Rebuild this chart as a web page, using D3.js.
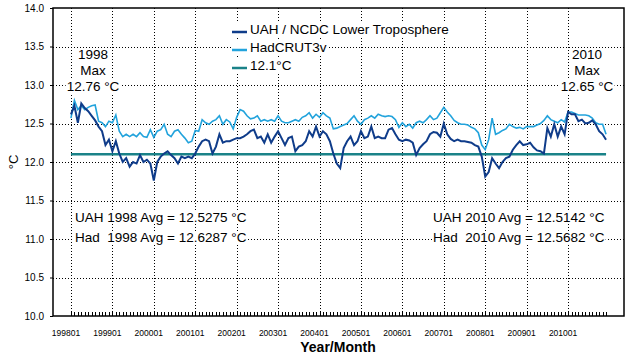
<!DOCTYPE html>
<html>
<head>
<meta charset="utf-8">
<script src="https://cdn.jsdelivr.net/npm/d3@7"></script>
<style>
  html, body { margin: 0; padding: 0; background: #fff; }
  svg { display: block; font-family: "Liberation Sans", Arial, sans-serif; }
  text { white-space: pre; }
</style>
</head>
<body>
<svg id="chart" width="636" height="360"></svg>
<script>
// ---- Data (monthly, starting 1998-01) ----
const uah = [
  12.62,12.73,12.51,12.76,12.70,12.66,12.60,12.54,12.46,12.40,12.22,12.29,
  12.14,12.27,12.11,12.00,12.05,11.94,12.00,11.98,12.09,12.00,12.03,11.98,
  11.76,12.00,12.07,12.11,12.14,12.09,12.05,11.98,12.07,12.05,12.07,12.05,
  12.11,12.20,12.27,12.29,12.27,12.11,12.20,12.36,12.25,12.27,12.27,12.29,
  12.31,12.31,12.33,12.36,12.40,12.42,12.31,12.33,12.25,12.36,12.25,12.33,
  12.40,12.31,12.22,12.31,12.33,12.14,12.20,12.22,12.27,12.40,12.33,12.46,
  12.33,12.40,12.36,12.27,12.11,11.98,11.92,12.18,12.27,12.33,12.22,12.27,
  12.40,12.31,12.33,12.46,12.31,12.33,12.31,12.31,12.42,12.44,12.36,12.29,
  12.27,12.29,12.28,12.25,12.09,12.18,12.23,12.27,12.36,12.39,12.38,12.33,
  12.50,12.36,12.30,12.27,12.29,12.27,12.27,12.26,12.25,12.22,12.20,12.07,
  11.81,11.87,12.05,11.98,11.92,12.00,12.05,12.07,12.16,12.22,12.27,12.22,
  12.23,12.25,12.19,12.15,12.14,12.11,12.44,12.33,12.49,12.33,12.46,12.36,
  12.65,12.62,12.62,12.53,12.55,12.50,12.51,12.54,12.49,12.40,12.36,12.29
];
const had = [
  12.57,12.80,12.68,12.73,12.68,12.71,12.73,12.74,12.53,12.51,12.46,12.53,
  12.51,12.61,12.40,12.33,12.36,12.33,12.36,12.33,12.38,12.33,12.32,12.42,
  12.32,12.40,12.42,12.49,12.36,12.33,12.40,12.42,12.36,12.31,12.25,12.27,
  12.41,12.40,12.55,12.51,12.49,12.53,12.55,12.60,12.49,12.55,12.52,12.43,
  12.58,12.68,12.66,12.60,12.56,12.57,12.60,12.53,12.55,12.53,12.55,12.53,
  12.60,12.53,12.51,12.51,12.53,12.55,12.53,12.58,12.60,12.64,12.57,12.62,
  12.58,12.64,12.60,12.57,12.43,12.44,12.46,12.48,12.50,12.55,12.60,12.53,
  12.49,12.55,12.57,12.60,12.57,12.62,12.60,12.59,12.60,12.59,12.55,12.45,
  12.51,12.46,12.49,12.44,12.51,12.53,12.51,12.55,12.60,12.55,12.57,12.64,
  12.71,12.65,12.60,12.54,12.51,12.49,12.49,12.48,12.45,12.43,12.38,12.22,
  12.16,12.29,12.57,12.36,12.38,12.41,12.43,12.49,12.46,12.44,12.45,12.43,
  12.46,12.46,12.46,12.48,12.50,12.54,12.60,12.55,12.53,12.51,12.55,12.52,
  12.65,12.65,12.63,12.61,12.61,12.61,12.60,12.57,12.51,12.49,12.49,12.36
];
const baselineValue = 12.1;
const xTickLabels = ["199801","199901","200001","200101","200201","200301","200401",
                     "200501","200601","200701","200801","200901","201001"];
const yTicks = [10.0,10.5,11.0,11.5,12.0,12.5,13.0,13.5,14.0];
const legendLabels = ["UAH / NCDC Lower Troposphere","HadCRUT3v","12.1\u00B0C"];
const maxNotes = [
  {lines:["1998","Max","12.76 \u00B0C"]},
  {lines:["2010","Max","12.65 \u00B0C"]}
];
const avgNotes = [
  "UAH 1998 Avg = 12.5275 \u00B0C", "Had  1998 Avg = 12.6287 \u00B0C",
  "UAH 2010 Avg = 12.5142 \u00B0C", "Had  2010 Avg = 12.5682 \u00B0C"
];

// ---- Colours ----
const cUAH = "#0f3c8a", cHad = "#22a3dc", cBase = "#1a8288";

const svg = d3.select("#chart");
const L = 53, R = 624, T = 8, B = 316;
const x = d3.scaleLinear().domain([-5.2, 160.2]).range([L, R]);
const y = d3.scaleLinear().domain([10, 14]).range([B, T]);
const months = d3.range(uah.length);

// gridlines
const grid = svg.append("g").attr("stroke", "#000").attr("stroke-width", 1)
  .attr("stroke-dasharray", "1,2").attr("shape-rendering", "crispEdges");
grid.selectAll("line.h").data(yTicks.filter(v => v > 10 && v < 14)).join("line")
  .attr("x1", L).attr("x2", R).attr("y1", d => Math.round(y(d)) + 0.5).attr("y2", d => Math.round(y(d)) + 0.5);
grid.selectAll("line.v").data(xTickLabels.map((d, i) => i * 12)).join("line")
  .attr("x1", d => Math.round(x(d)) + 0.5).attr("x2", d => Math.round(x(d)) + 0.5)
  .attr("y1", T).attr("y2", B);

// minor month ticks at bottom
svg.append("g").attr("stroke", "#000").attr("shape-rendering", "crispEdges")
  .selectAll("line").data(months).join("line")
  .attr("x1", d => Math.round(x(d)) + 0.5).attr("x2", d => Math.round(x(d)) + 0.5)
  .attr("y1", B).attr("y2", B - 4);

// y axis ticks & labels
const yAxis = d3.axisLeft(y).tickValues(yTicks).tickFormat(d3.format(".1f")).tickSize(3).tickPadding(6);
const gy = svg.append("g").attr("transform", `translate(${L},0)`).call(yAxis);
gy.select(".domain").remove();
gy.selectAll("text").attr("font-size", 10).attr("font-family", "Liberation Sans, Arial, sans-serif").attr("fill", "#000");
gy.selectAll("line").attr("stroke", "#000");

// x labels
const gx = svg.append("g");
gx.selectAll("text").data(xTickLabels).join("text")
  .attr("x", (d, i) => x(i * 12) - 5).attr("y", 336)
  .attr("text-anchor", "middle").attr("font-size", 8.5).text(d => d);

// axis titles
svg.append("text").attr("x", 338).attr("y", 352).attr("text-anchor", "middle")
  .attr("font-size", 14).attr("font-weight", "bold").text("Year/Month");
svg.append("text").attr("transform", "translate(18,162) rotate(-90)")
  .attr("text-anchor", "middle").attr("font-size", 13).text("\u00B0C");

// lines
svg.append("line").attr("x1", x(0)).attr("x2", x(uah.length - 1))
  .attr("y1", y(baselineValue)).attr("y2", y(baselineValue))
  .attr("stroke", cBase).attr("stroke-width", 2.5);
const lineGen = arr => d3.line().x((d, i) => x(i)).y(d => y(d))(arr);
svg.append("path").attr("d", lineGen(had)).attr("fill", "none").attr("stroke", cHad).attr("stroke-width", 1.6);
svg.append("path").attr("d", lineGen(uah)).attr("fill", "none").attr("stroke", cUAH).attr("stroke-width", 2);

// helper: text with white background
function labelBg(g, tx, ty, str, anchor, size) {
  const t = g.append("text").attr("x", tx).attr("y", ty).attr("text-anchor", anchor || "start")
    .attr("font-size", size || 13.5).text(str);
  const bb = t.node().getBBox();
  g.insert("rect", "text").attr("x", bb.x - 1).attr("y", bb.y + 1).attr("width", bb.width + 2)
    .attr("height", bb.height - 2).attr("fill", "#fff");
  return bb;
}

// max annotations
maxNotes.forEach((n, k) => {
  const cx = k === 0 ? 93 : 587;
  n.lines.forEach((s, j) => {
    labelBg(svg.append("g"), cx, 59 + j * 16, s, "middle", 13.5);
  });
});

// avg annotations
labelBg(svg.append("g"), 75, 222, avgNotes[0]);
labelBg(svg.append("g"), 75, 242, avgNotes[1]);
labelBg(svg.append("g"), 433, 222, avgNotes[2]);
labelBg(svg.append("g"), 433, 242, avgNotes[3]);

// legend
const legColors = [cUAH, cHad, cBase];
legendLabels.forEach((s, i) => {
  const g = svg.append("g");
  const ly = 29 + i * 18;
  const bb = labelBg(g, 250, ly + 5, s, "start", 13.5);
  g.insert("rect", "text").attr("x", 231).attr("y", bb.y + 1).attr("width", 20).attr("height", bb.height - 2).attr("fill", "#fff");
  g.append("line").attr("x1", 232).attr("x2", 247).attr("y1", ly + 3).attr("y2", ly + 3)
    .attr("stroke", legColors[i]).attr("stroke-width", 2.5);
});

// frame
svg.append("rect").attr("x", L).attr("y", T).attr("width", R - L).attr("height", B - T)
  .attr("fill", "none").attr("stroke", "#000").attr("stroke-width", 1.5);
</script>
</body>
</html>
